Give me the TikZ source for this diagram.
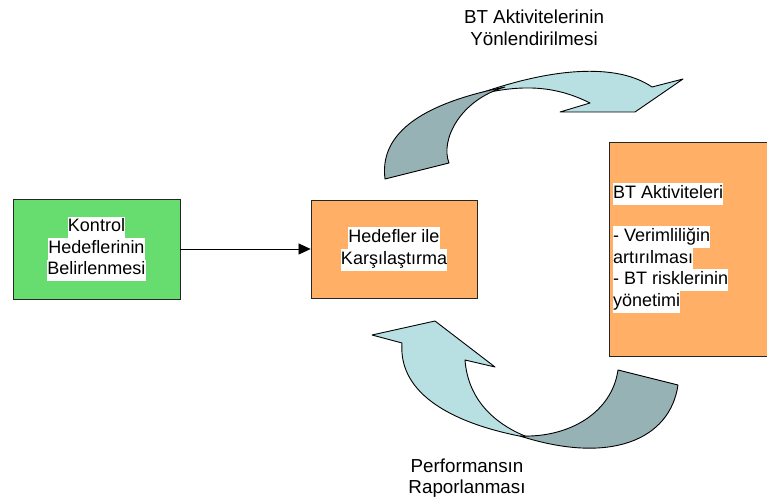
\documentclass[tikz,border=0pt]{standalone}
\usepackage{fontspec}
\setmainfont{Liberation Sans}
\usetikzlibrary{arrows.meta}
\definecolor{boxgreen}{HTML}{66DD6E}
\definecolor{boxorange}{HTML}{FFB066}
\definecolor{ribbonlight}{HTML}{B8DFE2}
\definecolor{ribbondark}{HTML}{96B2B4}
\newcommand{\hlline}[1]{{\setlength{\fboxsep}{0pt}\colorbox{white}{\strut #1}}}
\begin{document}
\begin{tikzpicture}[x=1pt,y=-1pt,
  every node/.style={font=\fontsize{18}{21.5}\selectfont},
  labeltext/.style={align=center, inner sep=0pt, font=\fontsize{18.8}{21.5}\selectfont},
  boxnode/.style={draw=black!85, line width=0.8pt, inner sep=0pt},
  ribbon/.style={draw=black, line width=0.9pt, line join=round}]
\useasboundingbox (0,0) rectangle (767,502);
\clip (0,0) rectangle (767,502);
% boxes
\node[boxnode, fill=boxgreen, minimum width=167pt, minimum height=100pt, align=center] (ctrl) at (96.5,249)
  {\hlline{Kontrol}\\\hlline{Hedeflerinin}\\\hlline{Belirlenmesi}};
\node[boxnode, fill=boxorange, minimum width=166pt, minimum height=98pt, align=center] (cmp) at (394,249)
  {\hlline{Hedefler ile}\\\hlline{Karşılaştırma}};
\node[boxnode, fill=boxorange, minimum width=170pt, minimum height=214pt, anchor=west] (act) at (609,249) {};
\node[anchor=west, align=left, inner sep=0pt] (acttext) at (613,248)
  {\hlline{BT Aktiviteleri}\\[21.5pt]\hlline{- Verimliliğin}\\\hlline{artırılması}\\\hlline{- BT risklerinin}\\\hlline{yönetimi}};
% connector
\draw[line width=0.7pt, -{Triangle[length=12pt,width=11pt]}] (ctrl.east) -- (cmp.west);
% top ribbon arrow
\filldraw[ribbon, fill=ribbonlight] (478,94) .. controls (560,65) and (620,65) .. (652,87)
  -- (683,79) -- (635,112) -- (560,112) -- (590,103)
  .. controls (560,88) and (530,84) .. (490,92) -- cycle;
\filldraw[ribbon, fill=ribbondark] (385,179) .. controls (378,125) and (440,100) .. (505,87)
  .. controls (460,100) and (440,140) .. (449,163) -- cycle;
% bottom ribbon arrow
\filldraw[ribbon, fill=ribbonlight] (372,335) -- (435,321) -- (495,367) -- (465,360)
  .. controls (468,400) and (495,425) .. (530,438)
  .. controls (455,425) and (398,395) .. (402,343) -- cycle;
\filldraw[ribbon, fill=ribbondark] (618,370) -- (678,385)
  .. controls (670,440) and (610,465) .. (520,436)
  .. controls (570,438) and (612,412) .. (618,370) -- cycle;
% labels
\node[labeltext] (toplabel) at (534,28) {BT Aktivitelerinin\\Yönlendirilmesi};
\node[labeltext] (botlabel) at (467,478) {Performansın\\Raporlanması};
\end{tikzpicture}
\end{document}
